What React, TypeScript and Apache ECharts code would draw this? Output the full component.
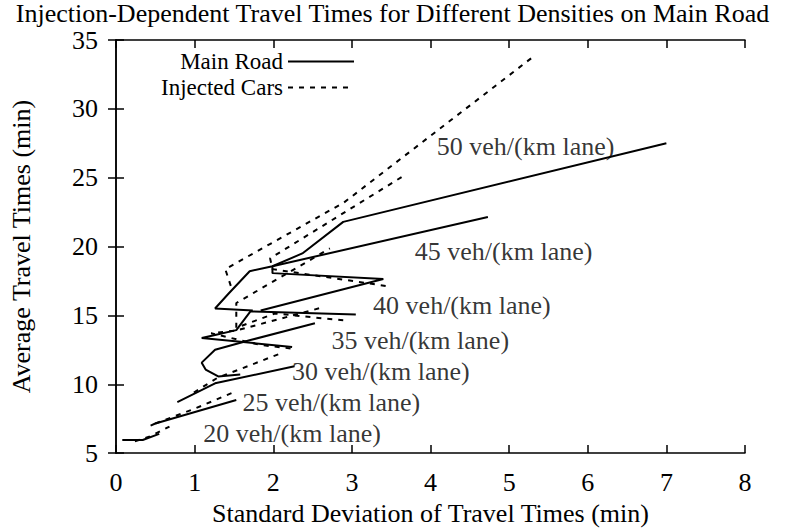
import React, { useEffect, useRef } from "react";
import * as echarts from "echarts";

const densities = [20, 25, 30, 35, 40, 45, 50];

const main20 = [[0.08, 5.95], [0.34, 5.95], [0.55, 6.4]];
const main25 = [[0.44, 7.0], [0.5, 7.15], [1.53, 8.85]];
const main30 = [[0.78, 8.7], [1.26, 10.07], [2.27, 11.3]];
const main35 = [[1.58, 10.71], [1.3, 10.57], [1.14, 11.07], [1.09, 11.57], [1.26, 12.5], [1.71, 13.21], [2.53, 14.43]];
const main40 = [[2.24, 12.71], [1.09, 13.36], [1.26, 13.57], [1.53, 13.93], [1.71, 15.29], [3.05, 15.07]];
const main45 = [[1.84, 15.36], [3.4, 17.64], [1.99, 18.07], [1.99, 18.57], [4.73, 22.14]];
const main50 = [[1.74, 15.36], [1.26, 15.5], [1.43, 16.57], [1.7, 18.21], [1.99, 18.57], [2.37, 19.5], [2.89, 21.79], [7.0, 27.5]];

const inj20 = [[0.24, 5.86], [0.43, 6.21], [0.68, 6.93]];
const inj25 = [[0.5, 7.15], [0.99, 8.2], [1.53, 9.5]];
const inj30 = [[0.99, 9.4], [1.3, 10.5], [1.58, 11.1], [2.12, 12.3]];
const inj35 = [[2.22, 12.6], [1.84, 12.85], [1.21, 13.7], [1.53, 13.9], [2.62, 15.57]];
const inj40 = [[2.89, 14.64], [2.02, 15.14], [1.53, 14.1], [1.53, 15.9], [2.72, 19.86]];
const inj45 = [[3.43, 17.14], [1.99, 18.36], [1.96, 19.14], [3.68, 25.21]];
const inj50 = [[1.46, 17.14], [1.39, 18.36], [2.9, 23.2], [5.31, 33.8]];

const mainRoad = [main20, main25, main30, main35, main40, main45, main50];
const injected = [inj20, inj25, inj30, inj35, inj40, inj45, inj50];

const labelX = [1.11, 1.61, 2.24, 2.74, 3.27, 3.8, 4.08];
const labelY = [6.43, 8.71, 10.93, 13.21, 15.71, 19.64, 27.29];

const FONT = "'Liberation Serif', 'Times New Roman', serif";

export default function App() {
  const ref = useRef<HTMLDivElement>(null);
  useEffect(() => {
    document.body.style.margin = "0";
    const chart = echarts.init(ref.current!, null, { renderer: "svg" });
    const series: any[] = [];
    mainRoad.forEach((d) =>
      series.push({
        type: "line",
        name: "Main Road",
        data: d,
        symbol: "none",
        showSymbol: false,
        lineStyle: { color: "#000", width: 2 },
        itemStyle: { color: "#000" },
        z: 3,
      })
    );
    injected.forEach((d) =>
      series.push({
        type: "line",
        name: "Injected Cars",
        data: d,
        symbol: "none",
        showSymbol: false,
        lineStyle: { color: "#000", width: 2, type: [5, 6] },
        itemStyle: { color: "#000" },
        z: 3,
      })
    );
    series.push({
      type: "scatter",
      name: "labels",
      data: densities.map((d, i) => [labelX[i], labelY[i], `${d} veh/(km lane)`]),
      symbolSize: 0,
      silent: true,
      label: {
        show: true,
        position: "right",
        distance: 0,
        formatter: (p: any) => p.value[2],
        fontFamily: FONT,
        fontSize: 26,
        color: "#000",
      },
      z: 4,
    });
    const tickCommon = { show: true, inside: true, length: 8, lineStyle: { color: "#000", width: 1.5 } };
    const legendCommon = {
      right: 430,
      padding: 0,
      align: "right",
      itemWidth: 66,
      itemHeight: 14,
      selectedMode: false,
      itemStyle: { color: "rgba(0,0,0,0)", borderWidth: 0, opacity: 0 },
      textStyle: { fontFamily: FONT, fontSize: 23, color: "#000" },
    };
    chart.setOption({
      animation: false,
      backgroundColor: "#fff",
      title: {
        text: "Injection-Dependent Travel Times for Different Densities on Main Road",
        left: "center",
        top: 0,
        padding: 0,
        textStyle: { fontFamily: FONT, fontSize: 26, fontWeight: "normal", color: "#000" },
      },
      legend: [
        { ...legendCommon, data: ["Main Road"], top: 50 },
        { ...legendCommon, data: ["Injected Cars"], top: 76 },
      ],
      grid: { left: 106, right: 40, top: 40, bottom: 71, containLabel: false },
      xAxis: [
        {
          type: "value",
          min: 0,
          max: 8,
          interval: 1,
          name: "Standard Deviation of Travel Times (min)",
          nameLocation: "middle",
          nameGap: 38,
          nameTextStyle: { fontFamily: FONT, fontSize: 26, color: "#000" },
          axisLine: { show: true, lineStyle: { color: "#000", width: 1.5 } },
          axisTick: tickCommon,
          axisLabel: { fontFamily: FONT, fontSize: 26, color: "#000", margin: 16 },
          splitLine: { show: false },
        },
        {
          type: "value",
          position: "top",
          min: 0,
          max: 8,
          interval: 1,
          axisLine: { show: true, lineStyle: { color: "#000", width: 1.5 } },
          axisTick: tickCommon,
          axisLabel: { show: false },
          splitLine: { show: false },
        },
      ],
      yAxis: [
        {
          type: "value",
          min: 5,
          max: 35,
          interval: 5,
          name: "Average Travel Times (min)",
          nameLocation: "middle",
          nameGap: 82,
          nameTextStyle: { fontFamily: FONT, fontSize: 26, color: "#000" },
          axisLine: { show: true, lineStyle: { color: "#000", width: 1.5 } },
          axisTick: tickCommon,
          axisLabel: { fontFamily: FONT, fontSize: 26, color: "#000", margin: 18 },
          splitLine: { show: false },
        },
        {
          type: "value",
          position: "right",
          min: 5,
          max: 35,
          interval: 5,
          axisLine: { show: true, lineStyle: { color: "#000", width: 1.5 } },
          axisTick: tickCommon,
          axisLabel: { show: false },
          splitLine: { show: false },
        },
      ],
      series,
    });
    return () => chart.dispose();
  }, []);
  return <div ref={ref} style={{ width: 785, height: 531 }} />;
}
